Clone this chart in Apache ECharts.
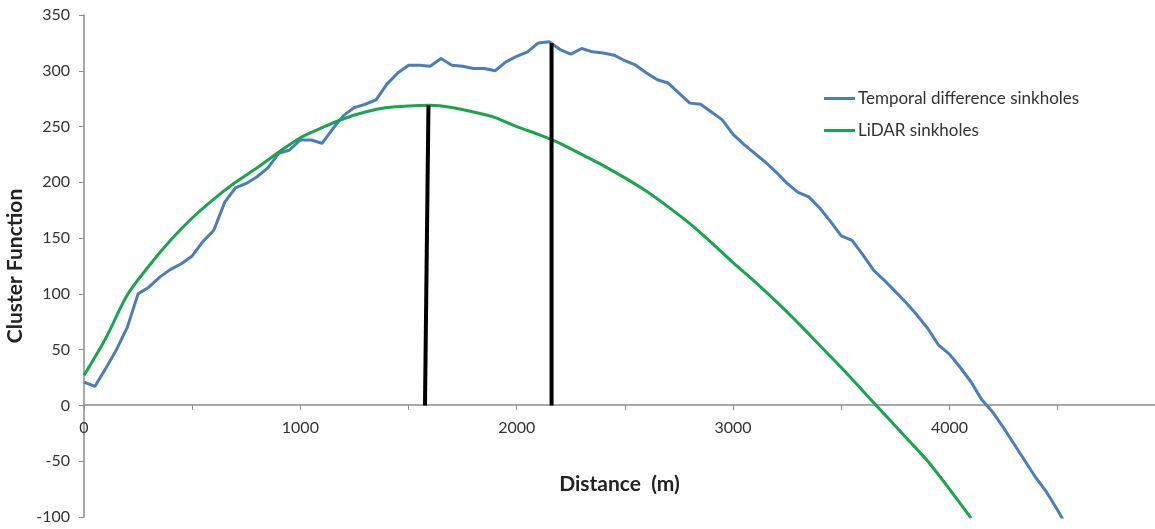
<!DOCTYPE html>
<html>
<head>
<meta charset="utf-8">
<script src="https://cdn.jsdelivr.net/npm/echarts@6/dist/echarts.min.js"></script>
<style>
  html, body { margin: 0; padding: 0; background: #fff; }
  #box { width: 1155px; height: 529px; }
</style>
</head>
<body>
<div id="box"></div>
<script>
// distances (m) of the temporal difference curve
var temporalDist = [
    0, 50, 100, 150, 200, 250, 300, 350, 400, 450,
    500, 550, 600, 650, 700, 750, 800, 850, 900, 950,
    1000, 1050, 1100, 1150, 1200, 1250, 1300, 1350, 1400, 1450,
    1500, 1550, 1600, 1650, 1700, 1750, 1800, 1850, 1900, 1950,
    2000, 2050, 2100, 2150, 2200, 2250, 2300, 2350, 2400, 2450,
    2500, 2550, 2600, 2650, 2700, 2750, 2800, 2850, 2900, 2950,
    3000, 3050, 3100, 3150, 3200, 3250, 3300, 3350, 3400, 3450,
    3500, 3550, 3600, 3650, 3700, 3750, 3800, 3850, 3900, 3950,
    4000, 4050, 4100, 4150, 4200, 4250, 4300, 4350, 4400, 4450,
    4500, 4550
];
var temporalVals = [
    21, 17, 33, 50, 70, 100, 106, 115, 122, 127,
    134, 147, 157, 182, 195, 199, 205, 213, 226, 229,
    238, 238, 235, 248, 260, 267, 270, 274, 288, 298,
    305, 305, 304, 311, 305, 304, 302, 302, 300, 308,
    313, 317, 325, 326, 319, 315, 320, 317, 316, 314,
    309, 305, 298, 292, 289, 280, 271, 270, 263, 256,
    243, 234, 226, 218, 209, 199, 191, 187, 177, 165,
    152, 148, 135, 121, 112, 102, 92, 81, 69, 54,
    46, 34, 21, 5, -6, -20, -35, -50, -65, -78,
    -94, -111
];

// distances (m) of the LiDAR curve
var lidarDist = [
    0, 100, 200, 300, 400, 500, 600, 700, 800, 900,
    1000, 1100, 1200, 1300, 1400, 1500, 1600, 1700, 1800, 1900,
    2000, 2100, 2200, 2300, 2400, 2500, 2600, 2700, 2800, 2900,
    3000, 3100, 3200, 3300, 3400, 3500, 3600, 3700, 3800, 3900,
    4000, 4100
];
var lidarVals = [
    27, 60, 99, 125, 148, 168, 185, 200, 213, 227,
    240, 249, 257, 263, 267, 268.5, 269, 267, 263, 258,
    250, 243, 235, 225, 215, 204, 192, 178, 163, 146,
    128, 111, 93, 74, 54, 34, 13, -8, -29, -50,
    -75, -101
];

// black marker lines at the peaks
var lidarPeakLine = [[1576, 0], [1592, 269]];
var temporalPeakLine = [[2161, 0], [2161, 325]];

var seriesNames = ['Temporal difference sinkholes', 'LiDAR sinkholes'];

function pairs(xs, ys) {
    return xs.map(function (x, i) { return [x, ys[i]]; });
}

var myChart = echarts.init(document.getElementById('box'));
var font = 'Lato, "Open Sans", sans-serif';
var option = {
    animation: false,
    backgroundColor: '#fff',
    grid: { left: 84, right: 0, top: 15, bottom: 12, outerBoundsMode: 'none', containLabel: false },
    legend: {
        data: seriesNames,
        orient: 'vertical',
        left: 819,
        top: 85,
        itemGap: 15,
        itemWidth: 31,
        itemHeight: 3,
        icon: 'rect',
        textStyle: { fontFamily: font, fontSize: 17, color: '#333', padding: [0, 0, 0, -2] }
    },
    xAxis: {
        type: 'value',
        min: 0,
        max: 4950,
        interval: 500,
        // axis sits on y = 0, which is 112 px above the grid bottom
        offset: -112,
        name: 'Distance  (m)',
        nameLocation: 'middle',
        nameGap: 69,
        nameTextStyle: { fontFamily: font, fontSize: 21, fontWeight: 'bold', color: '#222' },
        axisLine: { onZero: false, lineStyle: { color: '#8c8c8c', width: 1.5 } },
        axisTick: { show: true, length: 5, lineStyle: { color: '#8c8c8c' } },
        splitLine: { show: false },
        axisLabel: {
            margin: 15,
            fontFamily: font,
            fontSize: 16,
            color: '#333',
            showMaxLabel: false,
            formatter: function (v) { return v % 1000 === 0 ? String(v) : ''; }
        }
    },
    yAxis: {
        type: 'value',
        min: -100,
        max: 350,
        interval: 50,
        name: 'Cluster Function',
        nameLocation: 'middle',
        nameGap: 54,
        nameTextStyle: { fontFamily: font, fontSize: 21, fontWeight: 'bold', color: '#222' },
        axisLine: { show: true, lineStyle: { color: '#8c8c8c', width: 1.5 } },
        axisTick: { show: true, length: 5, lineStyle: { color: '#8c8c8c' } },
        splitLine: { show: false },
        axisLabel: { margin: 14, fontFamily: font, fontSize: 16, color: '#333' }
    },
    series: [
        {
            name: seriesNames[0],
            type: 'line',
            showSymbol: false,
            data: pairs(temporalDist, temporalVals),
            itemStyle: { color: '#4a7ebb' },
            lineStyle: { color: '#4a7ebb', width: 3 }
        },
        {
            name: seriesNames[1],
            type: 'line',
            showSymbol: false,
            smooth: 0.3,
            data: pairs(lidarDist, lidarVals),
            itemStyle: { color: '#17a64b' },
            lineStyle: { color: '#17a64b', width: 3 }
        },
        {
            type: 'line',
            showSymbol: false,
            data: lidarPeakLine,
            lineStyle: { color: '#000', width: 4 }
        },
        {
            type: 'line',
            showSymbol: false,
            data: temporalPeakLine,
            lineStyle: { color: '#000', width: 4 }
        }
    ]
};
myChart.setOption(option);
</script>
</body>
</html>
